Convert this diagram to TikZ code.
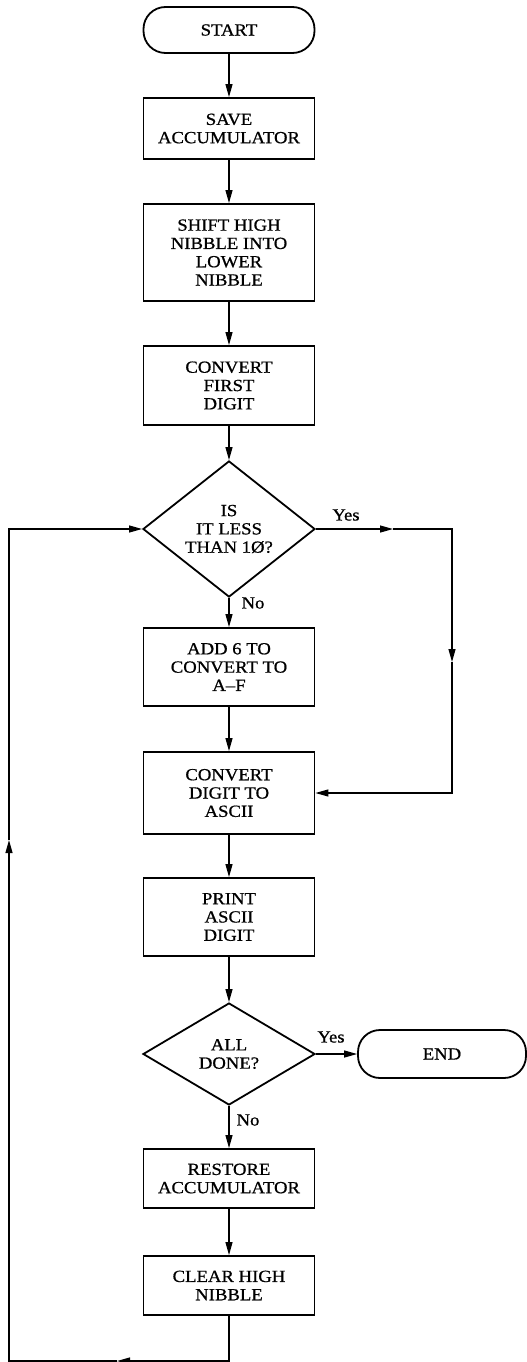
\documentclass[tikz,border=0pt]{standalone}
\usepackage{fontspec}
\setmainfont{Liberation Serif}[FakeStretch=1.1,FakeBold=0.8]
\usetikzlibrary{arrows.meta,shapes.geometric}
\newcommand{\chartfont}{\fontsize{17}{18.3}\selectfont}
\tikzset{
  box/.style={draw,line width=1.8pt,rectangle,minimum width=171pt,inner sep=0pt,align=center,font=\chartfont},
  term/.style={box,rounded corners=22pt},
  dec/.style={draw,line width=1.8pt,diamond,minimum width=172pt,inner sep=0pt,align=center,font=\chartfont},
  lbl/.style={font=\chartfont,inner sep=1pt},
  ln/.style={line width=1.2pt},
  ar/.style={ln,-{Triangle[length=13pt,width=7pt]}},
}

\begin{document}
\begin{tikzpicture}[x=1pt,y=-1pt]
\useasboundingbox (0,0) rectangle (527,1362);
% ---- main column ----
\node[term,minimum height=46pt] (start) at (229,30) {START};
\node[box,minimum height=61pt] (save) at (229,128.5) {SAVE\\ACCUMULATOR};
\node[box,minimum height=97pt] (shift) at (229,252.5) {SHIFT HIGH\\NIBBLE INTO\\LOWER\\NIBBLE};
\node[box,minimum height=79pt] (first) at (229,385.5) {CONVERT\\FIRST\\DIGIT};
\node[dec,minimum height=114pt] (less) at (229,529) {IS\\IT LESS\\THAN 1Ø?};
\node[box,minimum height=78pt] (add) at (229,667) {ADD 6 TO\\CONVERT TO\\A--F};
\node[box,minimum height=82pt] (ascii) at (229,793) {CONVERT\\DIGIT TO\\ASCII};
\node[box,minimum height=78pt] (print) at (229,917) {PRINT\\ASCII\\DIGIT};
\node[dec,minimum height=102pt] (done) at (229,1054) {ALL\\DONE?};
\node[term,minimum height=48pt,minimum width=168pt] (end) at (442,1054) {END};
\node[box,minimum height=59pt] (restore) at (229,1178.5) {RESTORE\\ACCUMULATOR};
\node[box,minimum height=59pt] (clear) at (229,1285.5) {CLEAR HIGH\\NIBBLE};

% ---- branch labels ----
\node[lbl] (yes1) at (346,515) {Yes};
\node[lbl] (no1) at (253,603) {No};
\node[lbl] (yes2) at (331,1037) {Yes};
\node[lbl] (no2) at (248,1120) {No};

% ---- straight flow ----
\draw[ar] (start) -- (save);
\draw[ar] (save) -- (shift);
\draw[ar] (shift) -- (first);
\draw[ar] (first) -- (less);
\draw[ar] (less) -- (add);
\draw[ar] (add) -- (ascii);
\draw[ar] (ascii) -- (print);
\draw[ar] (print) -- (done);
\draw[ar] (done) -- (end);
\draw[ar] (done) -- (restore);
\draw[ar] (restore) -- (clear);

% ---- yes branch around ADD 6 ----
\coordinate (ya) at (393,529);
\coordinate (yc) at (452,529);
\coordinate (yb) at (452,662);
\draw[ar] (less.east) -- (ya);
\draw[ar] (ya) -- (yc) -- (yb);
\draw[ar] (yb) |- (ascii.east);

% ---- loop back ----
\coordinate (lp) at (229,1361);
\coordinate (la) at (117,1361);
\coordinate (lc) at (9,1361);
\coordinate (lu) at (9,840);
\draw[ar] (clear.south) -- (lp) -- (la);
\draw[ar] (la) -- (lc) -- (lu);
\draw[ar] (lu) |- (less.west);
\end{tikzpicture}
\end{document}
